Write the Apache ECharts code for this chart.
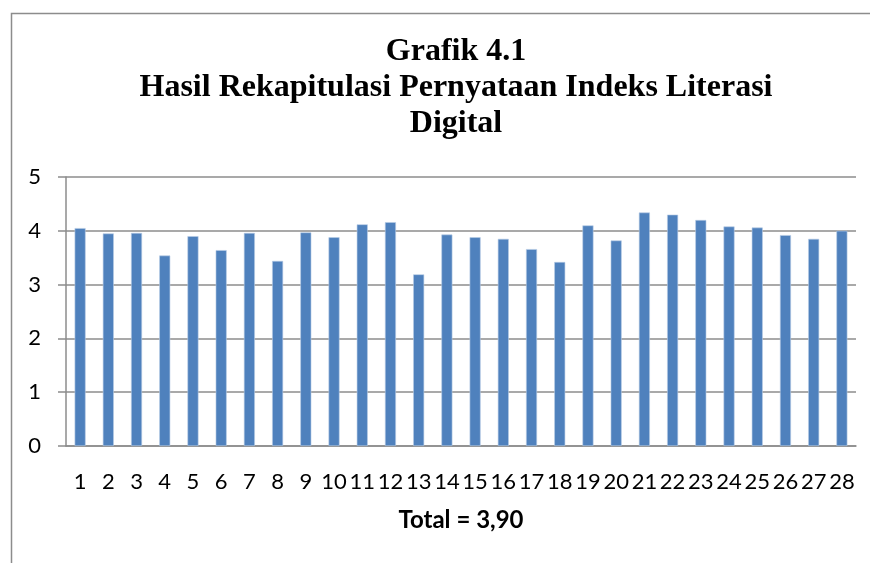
<!DOCTYPE html>
<html>
<head>
<meta charset="utf-8">
<script src="https://cdn.jsdelivr.net/npm/echarts@6/dist/echarts.min.js"></script>
<style>
    html, body { margin: 0; padding: 0; background: #fff; }
    #chart { width: 870px; height: 563px; }
</style>
</head>
<body>
<div id="chart"></div>
<script>
// nomor pernyataan 1..28
const categories = ['1', '2', '3', '4', '5', '6', '7', '8', '9', '10', '11', '12', '13', '14',
    '15', '16', '17', '18', '19', '20', '21', '22', '23', '24', '25', '26', '27', '28']
// skor rata-rata tiap pernyataan
const scores = [4.05, 3.95, 3.96, 3.54, 3.90, 3.64, 3.96, 3.44, 3.97, 3.88, 4.12, 4.16, 3.19, 3.93,
    3.88, 3.85, 3.66, 3.42, 4.10, 3.82, 4.34, 4.30, 4.20, 4.08, 4.06, 3.92, 3.85, 4.00]
const yTicks = [0, 1, 2, 3, 4, 5]
const titleText = 'Grafik 4.1\nHasil Rekapitulasi Pernyataan Indeks Literasi\nDigital'
const totalText = 'Total = 3,90'

let myChart = echarts.init(document.getElementById('chart'))

let option = {
    backgroundColor: '#fff',
    animation: false,
    graphic: [
        {
            // bingkai grafik (kiri & atas)
            type: 'rect',
            shape: { x: 11.5, y: 13.5, width: 900, height: 600 },
            style: { fill: 'none', stroke: '#8c8c8c', lineWidth: 1.5 },
            silent: true
        }
    ],
    title: {
        text: titleText,
        left: 451,
        top: 29,
        textAlign: 'center',
        textStyle: {
            fontFamily: 'Liberation Serif',
            fontWeight: 'bold',
            fontSize: 32,
            lineHeight: 36,
            color: '#000'
        }
    },
    grid: {
        left: 66,
        right: 14,
        top: 177,
        bottom: 117,
        containLabel: false
    },
    xAxis: {
        type: 'category',
        data: categories,
        name: totalText,
        nameLocation: 'middle',
        nameGap: 62,
        nameTextStyle: {
            fontFamily: 'Lato',
            fontWeight: 'bold',
            fontSize: 24,
            color: '#000'
        },
        axisLine: { show: true, lineStyle: { color: '#8c8c8c', width: 1.5 } },
        axisTick: { show: false },
        axisLabel: {
            interval: 0,
            margin: 25,
            fontFamily: 'Lato',
            fontSize: 22,
            color: '#000'
        }
    },
    yAxis: {
        type: 'value',
        min: yTicks[0],
        max: yTicks[yTicks.length - 1],
        interval: 1,
        axisLine: { show: true, lineStyle: { color: '#8c8c8c', width: 1.5 } },
        axisTick: { show: true, length: 8, lineStyle: { color: '#8c8c8c', width: 1.5 } },
        axisLabel: {
            margin: 25,
            fontFamily: 'Lato',
            fontSize: 22,
            color: '#000'
        },
        splitLine: { show: true, lineStyle: { color: '#8c8c8c', width: 1.5 } }
    },
    series: [
        {
            type: 'bar',
            data: scores,
            barWidth: 11,
            itemStyle: {
                color: '#4f81bd',
                borderColor: '#b9cde5',
                borderWidth: 0.6
            }
        }
    ]
}

myChart.setOption(option)
</script>
</body>
</html>
